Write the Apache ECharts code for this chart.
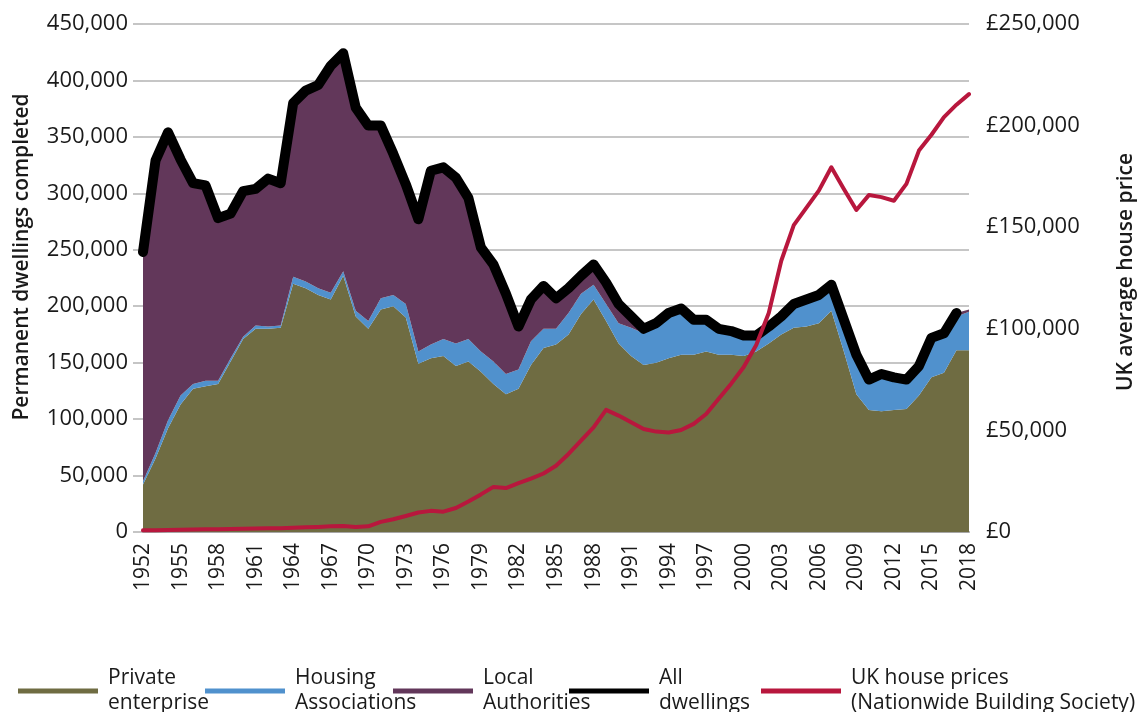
<!DOCTYPE html>
<html>
<head>
<meta charset="utf-8">
<script src="https://cdn.jsdelivr.net/npm/echarts@6/dist/echarts.min.js"></script>
<style>
html, body { margin: 0; padding: 0; background: #fff; }
#chart { width: 1145px; height: 712px; }
</style>
</head>
<body>
<div id="chart"></div>
<script>
// completions by tenure
const years = ['1952', '1953', '1954', '1955', '1956', '1957', '1958', '1959', '1960', '1961',
  '1962', '1963', '1964', '1965', '1966', '1967', '1968', '1969', '1970', '1971',
  '1972', '1973', '1974', '1975', '1976', '1977', '1978', '1979', '1980', '1981',
  '1982', '1983', '1984', '1985', '1986', '1987', '1988', '1989', '1990', '1991',
  '1992', '1993', '1994', '1995', '1996', '1997', '1998', '1999', '2000', '2001',
  '2002', '2003', '2004', '2005', '2006', '2007', '2008', '2009', '2010', '2011',
  '2012', '2013', '2014', '2015', '2016', '2017', '2018']

const privateEnterprise = [42000, 65000, 92000, 113000, 127000, 129000, 131000, 151000, 171000, 180000,
  180000, 181000, 220000, 216000, 210000, 206000, 227000, 191000, 180000, 197000,
  200000, 190000, 149000, 154000, 156000, 147000, 151000, 142000, 131000, 122000,
  127000, 148000, 163000, 166000, 175000, 193000, 206000, 187000, 167000, 156000,
  148000, 150000, 154000, 157000, 157000, 160000, 157000, 157000, 156000, 160000,
  167000, 175000, 181000, 182000, 185000, 196000, 160000, 122000, 108000, 107000,
  108000, 109000, 121000, 137000, 141000, 161000, 161000]

const housingAssociations = [3000, 5000, 7000, 8000, 4000, 5000, 3000, 3000, 2000, 3000,
  2000, 2000, 6000, 6000, 6000, 6000, 4000, 5000, 7000, 10000,
  10000, 12000, 11000, 12000, 15000, 20000, 20000, 18000, 20000, 18000,
  17000, 21000, 17000, 14000, 19000, 18000, 13000, 15000, 18000, 25000,
  28000, 33000, 36000, 39000, 30000, 27000, 22000, 20000, 17000, 13000,
  15000, 16000, 21000, 23000, 24000, 23000, 27000, 34000, 27000, 31000,
  27000, 24000, 24000, 32000, 32000, 30000, 34000]

const localAuthorities = [203000, 259000, 255000, 209000, 178000, 173000, 144000, 128000, 129000, 121000,
  131000, 126000, 154000, 169000, 180000, 201000, 193000, 180000, 173000, 153000,
  125000, 106000, 117000, 154000, 152000, 147000, 125000, 92000, 86000, 71000,
  38000, 37000, 38000, 27000, 22000, 16000, 18000, 19000, 17000, 10000,
  4000, 2000, 2000, 1000, 1000, 1000, 1000, 1000, 1000, 1000,
  500, 500, 500, 500, 500, 500, 500, 500, 1500, 2000,
  2000, 1000, 2000, 3000, 3000, 3000, 2000]

const allDwellings = [248000, 329000, 354000, 330000, 309000, 307000, 278000, 282000, 302000, 304000,
  313000, 309000, 380000, 391000, 396000, 413000, 424000, 376000, 360000, 360000,
  335000, 308000, 277000, 320000, 323000, 314000, 296000, 252000, 237000, 211000,
  182000, 206000, 218000, 207000, 216000, 227000, 237000, 221000, 202000, 191000,
  180000, 185000, 194000, 198000, 188000, 188000, 180000, 178000, 174000, 174000,
  182000, 191000, 202000, 206000, 210000, 219000, 188000, 157000, 135000, 140000,
  137000, 135000, 147000, 172000, 176000, 194000, null]

// Nationwide average price, £
const housePrice = [800, 900, 1000, 1100, 1200, 1300, 1400, 1500, 1600, 1700,
  1800, 1900, 2100, 2300, 2500, 2800, 3000, 2500, 2800, 5000,
  6300, 7900, 9600, 10400, 10000, 11800, 15000, 18500, 22200, 21600,
  24000, 26300, 28800, 32600, 38400, 45000, 51500, 60100, 57300, 54000,
  50700, 49400, 49000, 50200, 53200, 58100, 65600, 73000, 81200, 92000,
  107800, 133500, 151000, 159500, 168000, 179500, 168800, 158500, 165800, 164800,
  163000, 171300, 187700, 195500, 204200, 210300, 215500]

const seriesNames = ['Private enterprise', 'Housing Associations', 'Local Authorities', 'All dwellings', 'UK house prices (Nationwide Building Society)']
const legendText = ['Private\nenterprise', 'Housing\nAssociations', 'Local\nAuthorities', 'All\ndwellings', 'UK house prices\n(Nationwide Building Society)']
const legendLeft = [18, 205, 393, 569, 761]

const FONT = '"Open Sans", "Noto Sans", sans-serif'
const TEXT = '#1a1a1a'
const GRID = '#b3b3b3'
const OLIVE = '#6f6c42'
const BLUE = '#5091cd'
const PLUM = '#62375a'
const RED = '#b8173d'

const chart = echarts.init(document.getElementById('chart'))

function area(name, data, color) {
  return {
    name, type: 'line', stack: 'homes', data,
    symbol: 'none', silent: true,
    lineStyle: { width: 0 },
    itemStyle: { color },
    areaStyle: { color, opacity: 1 },
    z: 1,
  }
}

chart.setOption({
  animation: false,
  grid: { left: 143, right: 175, top: 24, bottom: 180 },
  legend: seriesNames.map((n, i) => ({
    data: [n],
    left: legendLeft[i],
    top: 666,
    padding: 0,
    icon: 'rect',
    itemWidth: 80,
    itemHeight: 5,
    selectedMode: false,
    formatter: () => legendText[i],
    textStyle: { fontFamily: FONT, fontSize: 21, color: TEXT, lineHeight: 25, padding: [0, 0, 0, 5] },
  })),
  xAxis: {
    type: 'category',
    data: years,
    boundaryGap: false,
    axisLine: { lineStyle: { color: '#a6a6a6', width: 2 } },
    axisTick: { show: false },
    axisLabel: { rotate: 90, interval: 2, margin: 11, fontFamily: FONT, fontSize: 21, color: TEXT },
    splitLine: { show: false },
  },
  yAxis: [
    {
      type: 'value', min: 0, max: 450000, interval: 50000,
      name: 'Permanent dwellings completed',
      nameLocation: 'middle', nameRotate: 90, nameGap: 110,
      nameTextStyle: { fontFamily: FONT, fontSize: 21, fontWeight: 600, color: TEXT, padding: [0, 0, 0, 42] },
      axisLine: { show: false },
      axisTick: { show: true, length: 10, lineStyle: { color: GRID, width: 1.5 } },
      axisLabel: { margin: 15, fontFamily: FONT, fontSize: 22, color: TEXT, formatter: v => v.toLocaleString('en-US') },
      splitLine: { lineStyle: { color: GRID, width: 1.5 } },
    },
    {
      type: 'value', min: 0, max: 250000, interval: 50000, position: 'right',
      name: 'UK average house price',
      nameLocation: 'middle', nameRotate: 90, nameGap: 147,
      nameTextStyle: { fontFamily: FONT, fontSize: 21, fontWeight: 600, color: TEXT, padding: [0, 0, 0, 12] },
      axisLine: { show: false },
      axisTick: { show: false },
      axisLabel: { margin: 17, fontFamily: FONT, fontSize: 22, color: TEXT, formatter: v => '£' + v.toLocaleString('en-US') },
      splitLine: { show: false },
    },
  ],
  series: [
    area(seriesNames[0], privateEnterprise, OLIVE),
    area(seriesNames[1], housingAssociations, BLUE),
    area(seriesNames[2], localAuthorities, PLUM),
    {
      name: seriesNames[3], type: 'line', data: allDwellings,
      symbol: 'none', silent: true,
      itemStyle: { color: '#000' },
      lineStyle: { color: '#000', width: 10, join: 'round', cap: 'round' },
      z: 3,
    },
    {
      name: seriesNames[4], type: 'line', yAxisIndex: 1, data: housePrice,
      symbol: 'none', silent: true,
      itemStyle: { color: RED },
      lineStyle: { color: RED, width: 4, join: 'round', cap: 'round' },
      z: 4,
    },
  ],
})
</script>
</body>
</html>
